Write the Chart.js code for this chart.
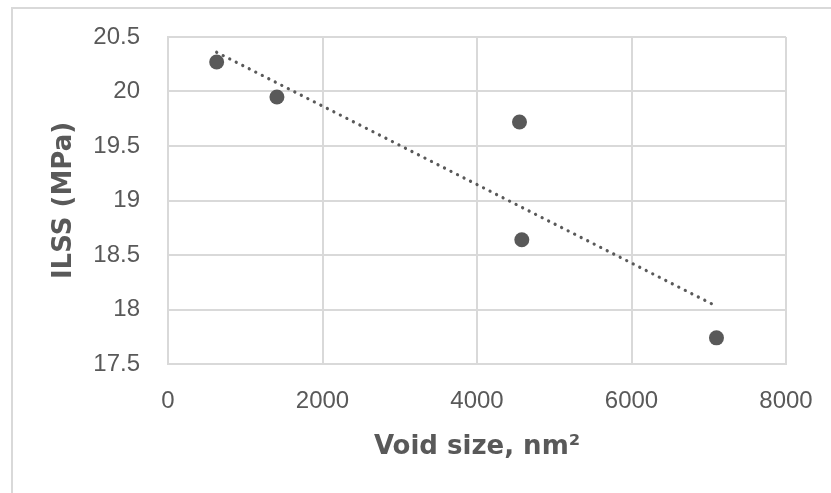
<!DOCTYPE html>
<html>
<head>
<meta charset="utf-8">
<script src="https://cdn.jsdelivr.net/npm/chart.js@4/dist/chart.umd.min.js"></script>
<style>
  html, body { margin: 0; padding: 0; background: #fff; overflow: hidden; }
  #wrap { position: relative; width: 831px; height: 493px; }
  #frame { position: absolute; left: 11px; top: 7px; width: 840px; height: 500px;
           border-top: 2px solid #d9d9d9; border-left: 2px solid #d9d9d9; box-sizing: border-box; }
  canvas { position: absolute; left: 0; top: 0; }
</style>
</head>
<body>
<div id="wrap">
  <div id="frame"></div>
  <canvas id="chart" width="831" height="493"></canvas>
</div>
<script>
// values
const voidSize = [630, 1410, 4550, 4580, 7100];
const ilss = [20.27, 19.95, 19.72, 18.64, 17.74];

// linear trendline end points (as drawn)
const trendX = [630, 7100];
const trendY = [20.36, 18.03];

const xTicks = [0, 2000, 4000, 6000, 8000];
const xTickLabels = ['0', '2000', '4000', '6000', '8000'];
const yTicks = [17.5, 18, 18.5, 19, 19.5, 20, 20.5];
const yTickLabels = ['17.5', '18', '18.5', '19', '19.5', '20', '20.5'];

const grey = '#595959';
const gridGrey = '#d9d9d9';

const ctx = document.getElementById('chart');
new Chart(ctx, {
  type: 'scatter',
  data: {
    datasets: [
      {
        label: 'ILSS',
        data: voidSize.map((x, i) => ({ x, y: ilss[i] })),
        backgroundColor: grey,
        borderColor: grey,
        pointRadius: 7.5,
        pointHoverRadius: 7.5,
        borderWidth: 0,
      },
      {
        label: 'Linear trend',
        data: trendX.map((x, i) => ({ x, y: trendY[i] })),
        showLine: true,
        borderColor: grey,
        borderWidth: 3.2,
        borderCapStyle: 'round',
        borderDash: [0.1, 7.2],
        pointRadius: 0,
        fill: false,
      },
    ],
  },
  options: {
    responsive: false,
    animation: false,
    layout: { padding: { left: 12, top: 37, right: 45, bottom: 0 } },
    plugins: { legend: { display: false }, tooltip: { enabled: false } },
    scales: {
      x: {
        type: 'linear',
        min: 0,
        max: 8000,
        afterBuildTicks: s => { s.ticks = xTicks.map(v => ({ value: v })); },
        afterFit: s => { s.height = 129; s.paddingLeft = 0; s.paddingRight = 0; },
        grid: { color: gridGrey, lineWidth: 2, drawTicks: false },
        border: { color: gridGrey, width: 2 },
        ticks: {
          color: grey,
          padding: 23,
          maxRotation: 0,
          font: { family: 'Liberation Sans', size: 24 },
          callback: (v, i) => xTickLabels[i],
        },
        title: {
          display: true,
          text: 'Void size, nm²',
          color: grey,
          font: { family: 'DejaVu Sans', size: 26, weight: 'bold', lineHeight: 1.2 },
          padding: { top: 0, bottom: 30 },
        },
      },
      y: {
        type: 'linear',
        min: 17.5,
        max: 20.5,
        afterBuildTicks: s => { s.ticks = yTicks.map(v => ({ value: v })); },
        afterFit: s => { s.width = 156; s.paddingTop = 0; s.paddingBottom = 0; },
        grid: { color: gridGrey, lineWidth: 2, drawTicks: false },
        border: { color: gridGrey, width: 2 },
        ticks: {
          color: grey,
          padding: 28,
          font: { family: 'Liberation Sans', size: 24 },
          callback: (v, i) => yTickLabels[i],
        },
        title: {
          display: true,
          text: 'ILSS (MPa)',
          color: grey,
          font: { family: 'DejaVu Sans', size: 26, weight: 'bold', lineHeight: 1.2 },
          padding: { top: 37, bottom: 0 },
        },
      },
    },
  },
});
</script>
</body>
</html>
